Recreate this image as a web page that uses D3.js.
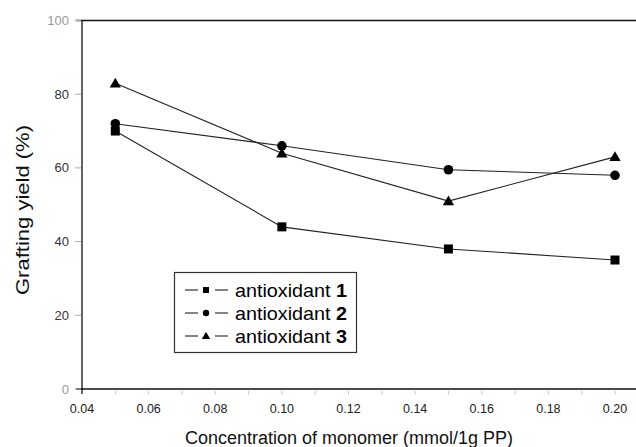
<!DOCTYPE html>
<html><head><meta charset="utf-8">
<script src="https://cdn.jsdelivr.net/npm/d3@7"></script>
<style>body{margin:0;background:#fff}svg{display:block}</style>
</head><body>
<svg id="c" width="636" height="447"></svg>
<script>
const concentrations = [0.05, 0.10, 0.15, 0.20];
const antioxidant1 = [70, 44, 38, 35];
const antioxidant2 = [72, 66, 59.5, 58];
const antioxidant3 = [83, 64, 51, 63];
const seriesNames = ["antioxidant ", "antioxidant ", "antioxidant "];
const seriesNums = ["1", "2", "3"];
const xTicks = [0.04, 0.06, 0.08, 0.10, 0.12, 0.14, 0.16, 0.18, 0.20];
const yTicks = [0, 20, 40, 60, 80, 100];

const svg = d3.select("#c");
const x = d3.scaleLinear().domain([0.04, 0.20]).range([82, 615]);
const y = d3.scaleLinear().domain([0, 100]).range([389, 20.5]);
const font = "'Liberation Sans', Arial, sans-serif";

// frame lines
svg.append("line").attr("x1", 76).attr("x2", 636).attr("y1", y(100)).attr("y2", y(100)).attr("stroke", "#111").attr("stroke-width", 1.3);
svg.append("line").attr("x1", 76).attr("x2", 636).attr("y1", y(0)).attr("y2", y(0)).attr("stroke", "#111").attr("stroke-width", 1.3);
svg.append("line").attr("x1", x(0.04)).attr("x2", x(0.04)).attr("y1", y(100)).attr("y2", y(0) + 5).attr("stroke", "#111").attr("stroke-width", 1.3);

// y ticks
const yg = svg.append("g");
yTicks.forEach(t => {
  yg.append("line").attr("x1", 75).attr("x2", 81).attr("y1", y(t)).attr("y2", y(t)).attr("stroke", "#aaa");
  yg.append("text").attr("x", 69).attr("y", y(t) + 4.5).attr("text-anchor", "end")
    .attr("font-family", font).attr("font-size", 13)
    .attr("fill", (t === 0 || t === 100) ? "#999" : "#333").text(t);
});
// x ticks
const xg = svg.append("g");
d3.range(0.05, 0.205, 0.01).forEach(t => {
  xg.append("line").attr("x1", x(t)).attr("x2", x(t)).attr("y1", y(0) + 2).attr("y2", y(0) + 6).attr("stroke", "#ccc");
});
xTicks.forEach(t => {
  xg.append("text").attr("x", x(t)).attr("y", 412.5).attr("text-anchor", "middle")
    .attr("font-family", font).attr("font-size", 12.5).attr("fill", "#222").text(d3.format(".2f")(t));
});

// axis titles
svg.append("text").attr("x", 349).attr("y", 444).attr("text-anchor", "middle")
  .attr("font-family", font).attr("font-size", 18).attr("fill", "#111").text("Concentration of monomer (mmol/1g PP)");
svg.append("text").attr("transform", "translate(29,210) rotate(-90)").attr("text-anchor", "middle")
  .attr("font-family", font).attr("font-size", 18.5).attr("textLength", 170).attr("lengthAdjust", "spacingAndGlyphs")
  .attr("fill", "#111").text("Grafting yield (%)");

const all = [antioxidant1, antioxidant2, antioxidant3];
const line = d3.line().x((d, i) => x(concentrations[i])).y(d => y(d));
all.forEach(s => {
  svg.append("path").attr("d", line(s)).attr("fill", "none").attr("stroke", "#222").attr("stroke-width", 1.1);
});
const symbols = [d3.symbolSquare, d3.symbolCircle, d3.symbolTriangle];
const sizes = [81, 72, 55];
all.forEach((s, k) => {
  svg.append("g").selectAll("path").data(s).join("path")
    .attr("transform", (d, i) => `translate(${x(concentrations[i])},${y(d) + (k === 2 ? 1 : 0)})`)
    .attr("d", d3.symbol().type(symbols[k]).size(sizes[k])).attr("fill", "#000");
});

// legend
const lg = svg.append("g");
lg.append("rect").attr("x", 174.5).attr("y", 272.5).attr("width", 182).attr("height", 80)
  .attr("fill", "#fff").attr("stroke", "#333").attr("stroke-width", 1.2);
const legSizes = [36, 32, 30];
[290, 313, 336].forEach((cy, k) => {
  lg.append("line").attr("x1", 185).attr("x2", 198).attr("y1", cy).attr("y2", cy).attr("stroke", "#222").attr("stroke-width", 1.1);
  lg.append("line").attr("x1", 215).attr("x2", 228).attr("y1", cy).attr("y2", cy).attr("stroke", "#222").attr("stroke-width", 1.1);
  lg.append("path").attr("transform", `translate(206,${cy + (k === 2 ? 0.5 : 0)})`)
    .attr("d", d3.symbol().type(symbols[k]).size(legSizes[k])).attr("fill", "#000");
  const t = lg.append("text").attr("x", 235).attr("y", cy + 6.5).attr("font-family", font).attr("font-size", 18.5)
    .attr("textLength", 112).attr("lengthAdjust", "spacingAndGlyphs").attr("fill", "#000");
  t.append("tspan").text(seriesNames[k]);
  t.append("tspan").attr("font-weight", "bold").text(seriesNums[k]);
});
</script>
</body></html>
